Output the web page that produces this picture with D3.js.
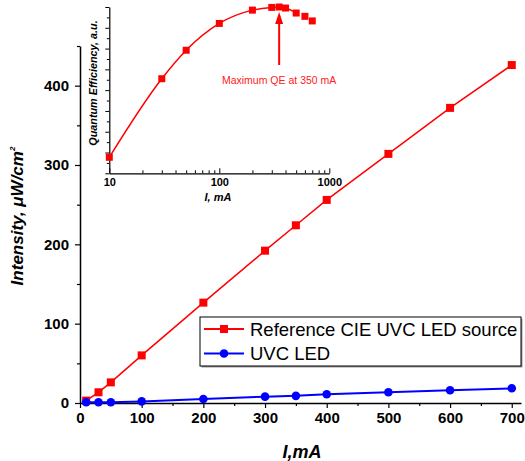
<!DOCTYPE html>
<html>
<head>
<meta charset="utf-8">
<script src="https://cdn.jsdelivr.net/npm/d3@7"></script>
<style>
  body { margin: 0; background: #fff; }
  svg { font-family: Arial, "Liberation Sans", sans-serif; }
  .axis path, .axis line { stroke: #000; }
</style>
</head>
<body>
<div id="chart"></div>
<script>
// Data
const current = [10, 30, 50, 100, 200, 300, 350, 400, 500, 600, 700];
const refIntensity = [3, 13.5, 26, 60, 126.5, 192, 224, 256, 314, 372, 426];
const ledIntensity = [1, 1, 1, 2, 5, 8, 9, 11, 13.5, 16, 18.5];
const qeValues = [0.277, 0.655, 0.792, 0.921, 0.985, 0.998, 1.0, 0.995, 0.971, 0.955, 0.933];
const xTicks = [0, 100, 200, 300, 400, 500, 600, 700];
const yTicks = [0, 100, 200, 300, 400];
const insetXTicks = [10, 100, 1000];
const legendLabels = ['Reference CIE UVC LED source', 'UVC LED'];

// Chart dimensions
const width = 525;
const height = 461;

const svg = d3.select('#chart')
  .append('svg')
  .attr('width', width)
  .attr('height', height);

// Main scales
const xScale = d3.scaleLinear().domain([0, 715]).range([80, 521]);
const yScale = d3.scaleLinear().domain([0, 450]).range([403, 46]);

// Main x-axis
const xAxis = svg.append('g')
  .attr('class', 'axis')
  .attr('transform', `translate(0, ${yScale(0)})`)
  .call(d3.axisBottom(xScale).tickValues(d3.range(0, 701, 50)).tickSizeOuter(0)
    .tickFormat(d => xTicks.includes(d) ? d : ''));
xAxis.select('.domain').attr('stroke-width', 1.5);
xAxis.selectAll('.tick line')
  .attr('stroke-width', 1.2)
  .attr('y2', d => xTicks.includes(d) ? 5 : 3);
xAxis.selectAll('.tick text')
  .attr('y', 9)
  .attr('font-size', 15)
  .attr('font-weight', 'bold')
  .attr('fill', '#000');

// Main y-axis
const yAxis = svg.append('g')
  .attr('class', 'axis')
  .attr('transform', `translate(${xScale(0)}, 0)`)
  .call(d3.axisLeft(yScale).tickValues(d3.range(0, 451, 50)).tickSizeOuter(0)
    .tickFormat(d => yTicks.includes(d) ? d : ''));
yAxis.select('.domain').attr('stroke-width', 1.5);
yAxis.selectAll('.tick line')
  .attr('stroke-width', 1.2)
  .attr('x2', d => yTicks.includes(d) ? -5 : -3);
yAxis.selectAll('.tick text')
  .attr('x', -11)
  .attr('font-size', 15)
  .attr('font-weight', 'bold')
  .attr('fill', '#000');

// Axis titles
svg.append('text')
  .attr('x', 302)
  .attr('y', 458)
  .attr('text-anchor', 'middle')
  .attr('font-size', 18)
  .attr('font-weight', 'bold')
  .attr('font-style', 'italic')
  .text('I,mA');

const yTitle = svg.append('text')
  .attr('transform', 'translate(23, 216) rotate(-90)')
  .attr('text-anchor', 'middle')
  .attr('font-size', 17)
  .attr('font-weight', 'bold')
  .attr('font-style', 'italic');
yTitle.append('tspan').text('Intensity, \u03bcW/cm');
yTitle.append('tspan').attr('font-size', 8).attr('dy', -8).text('2');

// Series
const refData = current.map((c, i) => ({ x: c, y: refIntensity[i] }));
const ledData = current.map((c, i) => ({ x: c, y: ledIntensity[i] }));

const line = d3.line()
  .x(d => xScale(d.x))
  .y(d => yScale(d.y));

svg.append('path')
  .datum(ledData)
  .attr('fill', 'none')
  .attr('stroke', '#0000ff')
  .attr('stroke-width', 2)
  .attr('d', line);

svg.append('path')
  .datum(refData)
  .attr('fill', 'none')
  .attr('stroke', '#ff0000')
  .attr('stroke-width', 1.5)
  .attr('d', line);

svg.selectAll('.ref-pt')
  .data(refData)
  .enter()
  .append('rect')
  .attr('class', 'ref-pt')
  .attr('x', d => xScale(d.x) - 4)
  .attr('y', d => yScale(d.y) - 4)
  .attr('width', 8)
  .attr('height', 8)
  .attr('fill', '#ff0000');

svg.selectAll('.led-pt')
  .data(ledData)
  .enter()
  .append('circle')
  .attr('class', 'led-pt')
  .attr('cx', d => xScale(d.x))
  .attr('cy', d => yScale(d.y))
  .attr('r', 4.3)
  .attr('fill', '#0000ff');

// Legend
const legend = svg.append('g').attr('transform', 'translate(200, 317)');
legend.append('rect')
  .attr('x', 1.5).attr('y', 1.5)
  .attr('width', 321).attr('height', 49)
  .attr('fill', '#999');
legend.append('rect')
  .attr('width', 321).attr('height', 49)
  .attr('fill', '#fff')
  .attr('stroke', '#000')
  .attr('stroke-width', 1);
legendLabels.forEach((label, i) => {
  const ly = 12 + i * 24.5;
  const color = i === 0 ? '#ff0000' : '#0000ff';
  legend.append('line')
    .attr('x1', 4).attr('x2', 44)
    .attr('y1', ly).attr('y2', ly)
    .attr('stroke', color).attr('stroke-width', 2);
  if (i === 0) {
    legend.append('rect')
      .attr('x', 20).attr('y', ly - 4)
      .attr('width', 8).attr('height', 8)
      .attr('fill', color);
  } else {
    legend.append('circle')
      .attr('cx', 24).attr('cy', ly).attr('r', 4.3)
      .attr('fill', color);
  }
  legend.append('text')
    .attr('x', 50).attr('y', ly + 6.5)
    .attr('font-size', 18.5)
    .text(label);
});

// Inset: quantum efficiency vs current (log scale)
const ix = d3.scaleLog().domain([10, 1000]).range([109.3, 329.3]);
const iy = d3.scaleLinear().domain([0.2, 1.0]).range([173.3, 7]);

const insetX = svg.append('g')
  .attr('class', 'axis')
  .attr('transform', `translate(0, ${iy(0.2)})`)
  .call(d3.axisBottom(ix).tickValues(d3.range(10, 1001, 10).filter(v => v < 100 || v % 100 === 0))
    .tickSizeOuter(0).tickFormat(d => insetXTicks.includes(d) ? d : ''));
insetX.select('.domain').attr('stroke-width', 1.2);
insetX.selectAll('.tick line')
  .attr('stroke-width', 1)
  .attr('y2', d => insetXTicks.includes(d) ? -5 : -3);
insetX.selectAll('.tick text')
  .attr('y', 5)
  .attr('font-size', 11)
  .attr('font-weight', 'bold')
  .attr('fill', '#000');

const insetY = svg.append('g')
  .attr('class', 'axis')
  .attr('transform', `translate(${ix(10)}, 0)`)
  .call(d3.axisLeft(iy).tickValues(d3.range(0.2, 1.0001, 0.05)).tickSizeOuter(0).tickFormat(''));
insetY.select('.domain').attr('stroke-width', 1.2);
insetY.selectAll('.tick line')
  .attr('stroke-width', 1)
  .attr('x2', (d, i) => i % 2 === 0 ? -4 : -2.5);

svg.append('text')
  .attr('x', 218)
  .attr('y', 201)
  .attr('text-anchor', 'middle')
  .attr('font-size', 11)
  .attr('font-weight', 'bold')
  .attr('font-style', 'italic')
  .text('I, mA');

svg.append('text')
  .attr('transform', 'translate(97, 83) rotate(-90)')
  .attr('text-anchor', 'middle')
  .attr('font-size', 10.8)
  .attr('font-weight', 'bold')
  .attr('font-style', 'italic')
  .text('Quantum Efficiency, a.u.');

const qeData = current.map((c, i) => ({ x: c, y: qeValues[i] }));

svg.append('path')
  .datum(qeData.filter(d => d.x <= 500))
  .attr('fill', 'none')
  .attr('stroke', '#ff0000')
  .attr('stroke-width', 1.5)
  .attr('d', d3.line().curve(d3.curveMonotoneX).x(d => ix(d.x)).y(d => iy(d.y)));

svg.selectAll('.qe-pt')
  .data(qeData)
  .enter()
  .append('rect')
  .attr('class', 'qe-pt')
  .attr('x', d => ix(d.x) - 3.5)
  .attr('y', d => iy(d.y) - 3.5)
  .attr('width', 7)
  .attr('height', 7)
  .attr('fill', '#ff0000');

// Annotation arrow at maximum QE
const ax = ix(350);
svg.append('line')
  .attr('x1', ax).attr('x2', ax)
  .attr('y1', 65).attr('y2', 22)
  .attr('stroke', '#ff0000')
  .attr('stroke-width', 2);
svg.append('path')
  .attr('d', `M${ax - 4},24 L${ax},12 L${ax + 4},24 Z`)
  .attr('fill', '#ff0000');
svg.append('text')
  .attr('x', ax)
  .attr('y', 84)
  .attr('text-anchor', 'middle')
  .attr('font-size', 10.5)
  .attr('fill', '#ff2020')
  .text('Maximum QE at 350 mA');
</script>
</body>
</html>
